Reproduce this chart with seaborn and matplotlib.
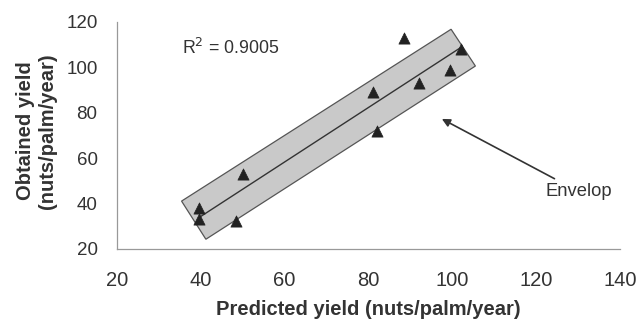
import numpy as np
import pandas as pd
import matplotlib
matplotlib.use("Agg")
import matplotlib.pyplot as plt
import seaborn as sns
from matplotlib.patches import Polygon

predicted = [39.5, 39.5, 48.5, 50.0, 81.0, 82.0, 88.5, 92.0, 99.5, 102.0]
obtained = [38.0, 33.0, 32.5, 53.0, 89.0, 72.0, 113.0, 93.0, 99.0, 108.0]
envelope_x = [35.4, 41.2, 105.5, 99.7]
envelope_y = [41.1, 24.3, 100.6, 116.8]
x_ticks = [20, 40, 60, 80, 100, 120, 140]
y_ticks = [20, 40, 60, 80, 100, 120]
r2_text = "R$^2$ = 0.9005"

sns.set_style("white")
plt.rcParams['font.family'] = ['Liberation Sans', 'DejaVu Sans']

df = pd.DataFrame({"Predicted": predicted, "Obtained": obtained})

fig = plt.figure(figsize=(6.38, 3.21), dpi=100)
ax = fig.add_axes([0.1834, 0.2243, 0.7884, 0.7072])

env = Polygon(list(zip(envelope_x, envelope_y)), closed=True,
              facecolor="#c9c9c9", edgecolor="#555555", linewidth=0.9, zorder=1)
ax.add_patch(env)

slope, intercept = np.polyfit(predicted, obtained, 1)
xs = np.array([min(predicted), max(predicted)])
line_df = pd.DataFrame({"x": xs, "y": slope * xs + intercept})
sns.lineplot(data=line_df, x="x", y="y", ax=ax, color="#333333", linewidth=1.0, zorder=2)

sns.scatterplot(data=df, x="Predicted", y="Obtained", ax=ax, marker="^", s=65,
                color="#222222", edgecolor="#222222", linewidth=0.5, zorder=3)

ax.set_xlim(20, 140)
ax.set_ylim(20, 120)
ax.set_xticks(x_ticks)
ax.set_yticks(y_ticks)
ax.tick_params(axis="both", which="both", direction="out", length=4, width=0.8,
               color="#999999", labelcolor="#333333")
ax.tick_params(axis="x", pad=12, labelsize=14.5)
ax.tick_params(axis="y", pad=10, labelsize=13.5)
for side in ["top", "right"]:
    ax.spines[side].set_visible(False)
for side in ["left", "bottom"]:
    ax.spines[side].set_color("#999999")
    ax.spines[side].set_linewidth(0.9)

ax.set_xlabel("Predicted yield (nuts/palm/year)", fontsize=14.5, fontweight="bold",
              color="#333333")
ax.xaxis.set_label_coords(0.5, -0.225)
ax.set_ylabel("Obtained yield\n(nuts/palm/year)", fontsize=14.5, fontweight="bold",
              color="#333333", linespacing=1.2)
ax.yaxis.set_label_coords(-0.119, 0.52)

ax.text(35.4, 108.7, r2_text, fontsize=12.8, color="#333333", ha="left", va="center")
ax.annotate("Envelop", xy=(97.5, 77.3), xytext=(122.3, 45.2),
            fontsize=13.2, color="#333333", ha="left", va="center",
            arrowprops=dict(arrowstyle="-|>", color="#333333", lw=1.2,
                            shrinkA=2, shrinkB=0, mutation_scale=12))

fig.savefig("out.png", dpi=100)
